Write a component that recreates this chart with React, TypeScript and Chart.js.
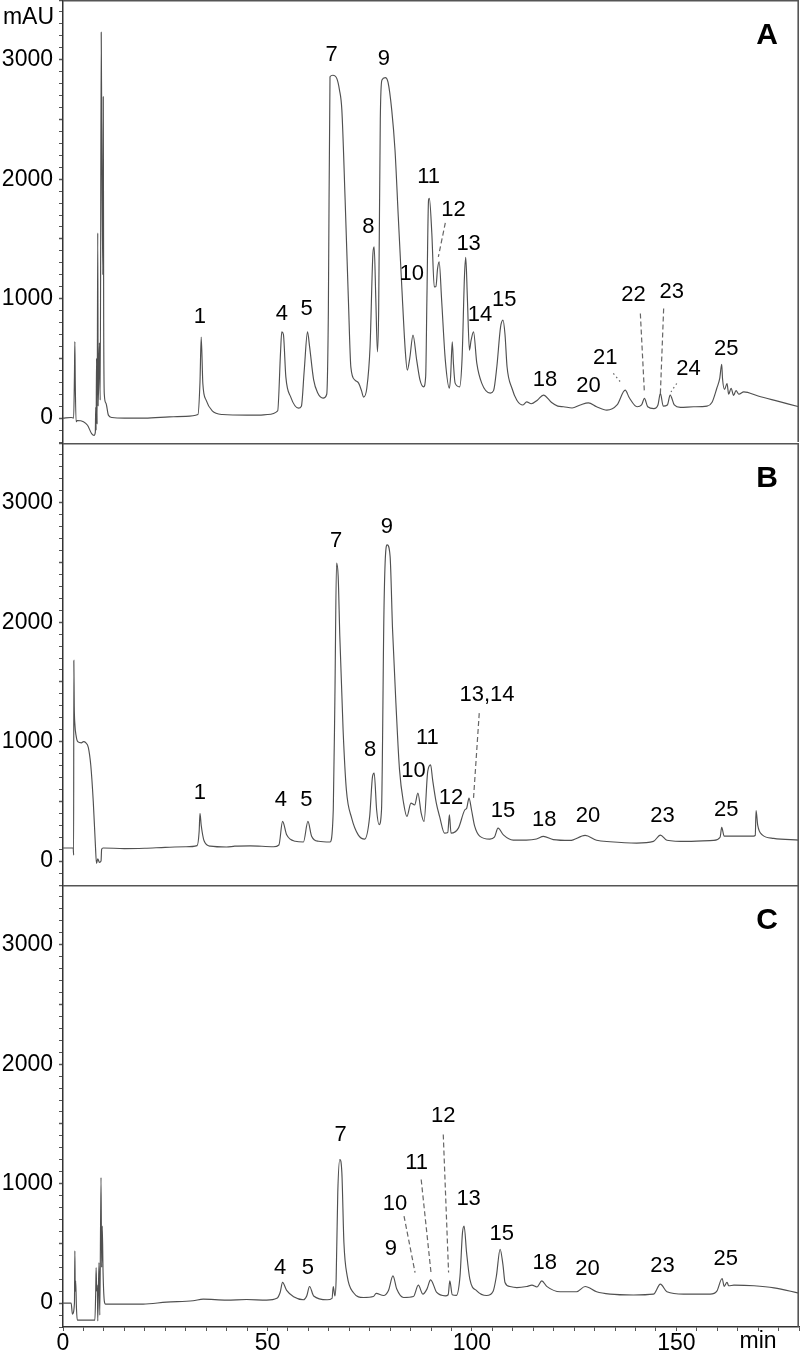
import React, { useEffect, useRef } from "react";
import { Chart, registerables } from "chart.js";

Chart.register(...registerables);

const FONT = '"Liberation Sans", Arial, Helvetica, sans-serif';

const timeRange = [0, 180];
const signalRange = [-200, 3500];
const xTickLabels = [0, 50, 100, 150];
const yTickLabels = [0, 1000, 2000, 3000];

// ---------- Panel A ----------
const timeA = [0, 2.0, 2.6, 2.8, 2.9, 3.0, 3.2, 3.5, 5.0, 6.0, 7.0, 7.6, 7.9, 8.0, 8.1, 8.2, 8.35, 8.5, 8.6, 8.9, 9.1, 9.35, 9.5, 9.75, 9.85, 9.95, 10.1, 10.5, 11.1, 12, 15, 20, 26, 30, 33.0, 33.5, 33.8, 34.2, 35.0, 36.5, 39, 45, 48, 50, 52.5, 53.2, 53.5, 53.9, 54.5, 55.7, 57.6, 58.3, 59.0, 59.8, 60.3, 61.3, 62.3, 63.6, 64.5, 64.9, 65.3, 66.0, 67.0, 67.6, 68.2, 69.0, 69.8, 70.4, 71.4, 72.3, 73.0, 73.5, 74.3, 75.1, 75.8, 76.1, 76.5, 76.9, 77.2, 77.6, 78.0, 78.8, 79.5, 80.4, 81.2, 82.0, 82.9, 83.7, 84.2, 84.8, 85.6, 86.5, 87.3, 88.2, 88.7, 89.0, 89.4, 89.6, 90.2, 90.8, 91.2, 91.6, 92.0, 92.6, 93.5, 94.5, 94.8, 95.2, 95.5, 95.9, 97.0, 97.6, 98.2, 98.5, 98.9, 99.4, 99.8, 100.4, 101.2, 102.4, 104.5, 105.3, 106.1, 107.0, 107.6, 108.1, 108.6, 109.8, 111.0, 112.5, 113.4, 114.5, 116.0, 117.5, 119.5, 121.0, 122.4, 124.5, 126.5, 128.5, 130.5, 133.0, 135.5, 137.5, 138.5, 140.4, 141.5, 142.2, 143.0, 144.5, 145.5, 146.1, 146.8, 147.8, 148.5, 149.5, 151, 154.2, 157.5, 158.7, 159.9, 160.6, 161.1, 161.3, 161.8, 162.4, 162.8, 163.4, 164.0, 164.6, 165.3, 166.5, 170, 175, 180];
const signalA = [0, 5, 0, 360, 640, 300, -30, -20, -30, -60, -130, -145, -120, 90, -100, 500, -50, 1550, 100, 630, 150, 3230, 2200, 1200, 2690, 820, 200, 125, 25, 5, 0, 0, 10, 15, 30, 300, 678, 290, 150, 60, 30, 25, 25, 30, 60, 550, 722, 700, 345, 176, 84, 100, 400, 722, 600, 320, 210, 167, 200, 900, 2857, 2870, 2840, 2750, 2578, 1825, 988, 427, 318, 293, 230, 176, 250, 600, 1380, 1434, 1000, 555, 900, 2500, 2830, 2850, 2810, 2578, 2243, 1685, 1071, 569, 402, 500, 695, 485, 320, 262, 350, 1000, 1825, 1840, 1548, 1099, 1100, 1250, 1308, 988, 485, 250, 350, 639, 450, 293, 262, 500, 1200, 1345, 1000, 569, 650, 722, 460, 293, 209, 230, 430, 760, 820, 700, 430, 250, 150, 110, 136, 120, 150, 193, 130, 100, 95, 85, 110, 128, 95, 67, 110, 234, 170, 95, 110, 165, 95, 80, 110, 207, 100, 110, 193, 110, 90, 95, 100, 130, 250, 330, 450, 330, 240, 290, 200, 250, 190, 230, 200, 220, 185, 140, 95];
const peakNamesA = ["1", "4", "5", "7", "8", "9", "10", "11", "12", "13", "14", "15", "18", "20", "21", "22", "23", "24", "25"];
const peakTimesA = [33.5, 53.5, 59.6, 65.7, 74.7, 78.5, 85.3, 89.4, 95.5, 99.2, 102.0, 107.9, 117.9, 128.5, 132.6, 139.5, 148.9, 153.0, 162.2];
const peakLabelLevelsA = [845, 876, 918, 3038, 1601, 3010, 1211, 2020, 1741, 1462, 862, 988, 318, 268, 500, 1030, 1057, 408, 575];
const leaderTimesA = [[93.5, 91.8], [134.6, 136.3], [141.2, 142.2], [146.9, 146.1], [150.1, 148.7]];
const leaderLevelsA = [[1635, 1350], [374, 304], [876, 207], [918, 207], [290, 220]];
const leaderDottedA = [false, true, false, false, true];

// ---------- Panel B ----------
const timeB = [0, 2.5, 2.6, 2.65, 2.75, 2.9, 3.2, 3.6, 4.5, 5.0, 5.6, 6.2, 6.8, 7.4, 7.9, 8.2, 8.5, 8.9, 9.3, 9.45, 9.8, 15, 20, 25, 30, 32.8, 33.3, 33.5, 33.8, 34.5, 36, 40, 42, 45.8, 51.5, 52.8, 53.7, 54.7, 56.8, 58.8, 59.9, 60.8, 62.5, 65.3, 66.1, 66.5, 66.9, 67.3, 67.7, 68.5, 69.3, 70.6, 72.2, 73.8, 75.0, 75.7, 76.1, 76.7, 77.3, 77.9, 78.5, 78.9, 79.3, 80.0, 80.6, 81.5, 82.3, 83.3, 84.1, 85.1, 86.0, 86.8, 87.6, 88.3, 89.2, 89.9, 90.4, 91.3, 92.1, 93.3, 94.1, 94.5, 94.9, 96.7, 98.3, 98.7, 99.3, 99.9, 100.7, 101.9, 104.4, 105.5, 106.4, 107.7, 110.1, 113.3, 115.8, 117.5, 119.9, 124, 127.7, 130.5, 133.8, 140.3, 144.4, 146.1, 147.7, 152.6, 159.1, 160.7, 161.1, 161.7, 168.9, 169.3, 169.5, 169.9, 171, 173.8, 180];
const signalB = [110, 110, 50, 1680, 1300, 1150, 1050, 1000, 990, 1000, 990, 950, 800, 500, 150, -20, 20, -10, 0, 100, 110, 105, 108, 115, 120, 130, 250, 400, 300, 170, 125, 118, 125, 128, 120, 135, 332, 220, 166, 160, 332, 209, 166, 160, 430, 1379, 2494, 2383, 1881, 1099, 597, 360, 220, 184, 374, 709, 737, 430, 304, 430, 2103, 2578, 2647, 2550, 1936, 1266, 764, 485, 374, 485, 470, 569, 402, 332, 751, 806, 680, 485, 374, 234, 240, 388, 234, 276, 430, 440, 527, 430, 290, 209, 184, 200, 276, 220, 176, 176, 185, 207, 180, 173, 215, 175, 162, 151, 165, 218, 175, 165, 173, 200, 282, 209, 209, 215, 424, 301, 220, 190, 176];
const peakNamesB = ["1", "4", "5", "7", "8", "9", "10", "11", "12", "13,14", "15", "18", "20", "23", "25"];
const peakTimesB = [33.5, 53.3, 59.5, 66.8, 75.1, 79.2, 85.7, 89.1, 94.9, 103.7, 107.6, 117.7, 128.4, 146.6, 162.2];
const peakLabelLevelsB = [567, 513, 513, 2676, 932, 2801, 751, 1029, 527, 1392, 416, 346, 374, 379, 429];
const leaderTimesB = [[101.8, 100.4]];
const leaderLevelsB = [[1239, 527]];
const leaderDottedB = [false];

// ---------- Panel C ----------
const timeC = [0, 2.0, 2.3, 2.8, 2.9, 3.0, 3.1, 3.3, 3.5, 7.8, 8.0, 8.1, 8.25, 8.4, 8.5, 8.8, 9.0, 9.3, 9.45, 9.6, 9.8, 10.1, 10.4, 19.6, 25.3, 31.8, 34.3, 40, 44.9, 49.8, 52.3, 53.1, 53.7, 54.7, 56.4, 58.8, 59.6, 60.3, 61.3, 64.6, 65.8, 66.1, 66.5, 66.8, 67.2, 67.7, 68.2, 68.7, 69.5, 71.0, 73.5, 75.9, 76.6, 78.4, 79.6, 80.7, 81.6, 83.3, 85.7, 86.9, 88.0, 89.0, 89.9, 91.4, 93.5, 94.2, 94.6, 95.2, 96.2, 97.1, 97.7, 98.1, 98.7, 99.5, 101.2, 103.6, 105.2, 106.0, 106.9, 107.6, 108.1, 109.3, 111.0, 113.4, 114.7, 115.9, 117.1, 118.3, 121.6, 125.6, 127.7, 130.5, 133.8, 139.5, 144.4, 146.1, 147.7, 151.8, 158.3, 159.9, 161.2, 161.7, 162.4, 162.8, 164.1, 169, 173.9, 180];
const signalC = [0, 0, -92, 0, 437, 100, 186, -50, -142, -142, 100, 298, 100, 150, -150, 340, -100, 1050, 300, 645, 256, 19, -8, -8, 8, 20, 33, 25, 30, 25, 40, 89, 173, 106, 53, 28, 60, 139, 60, 28, 40, 139, 60, 200, 924, 1202, 1091, 507, 228, 89, 47, 55, 81, 64, 106, 228, 120, 47, 55, 150, 75, 117, 195, 89, 61, 70, 186, 70, 65, 228, 590, 645, 423, 200, 103, 64, 100, 228, 451, 320, 173, 139, 130, 139, 150, 135, 186, 140, 95, 95, 139, 95, 75, 68, 75, 159, 95, 75, 75, 100, 206, 140, 175, 145, 150, 145, 128, 83];
const peakNamesC = ["4", "5", "7", "9", "10", "11", "12", "13", "15", "18", "20", "23", "25"];
const peakTimesC = [53.1, 59.9, 67.9, 80.2, 81.2, 86.5, 93.0, 99.2, 107.3, 117.8, 128.3, 146.6, 162.1];
const peakLabelLevelsC = [298, 298, 1411, 451, 827, 1175, 1564, 868, 576, 340, 290, 312, 367];
const leaderTimesC = [[83.4, 86.1], [87.6, 90.0], [93.0, 94.3]];
const leaderLevelsC = [[729, 256], [1035, 256], [1411, 256]];
const leaderDottedC = [false, false, false];

type PanelSpec = {
  key: string;
  letter: string;
  times: number[];
  values: number[];
  names: string[];
  nameTimes: number[];
  nameLevels: number[];
  leaderTimes: number[][];
  leaderLevels: number[][];
  leaderDotted: boolean[];
  top: number;
  height: number;
  padBottom: number;
  bottomAxis: boolean;
  unitLabel: boolean;
};

const panels: PanelSpec[] = [
  { key: "A", letter: "A", times: timeA, values: signalA, names: peakNamesA, nameTimes: peakTimesA, nameLevels: peakLabelLevelsA, leaderTimes: leaderTimesA, leaderLevels: leaderLevelsA, leaderDotted: leaderDottedA, top: 0, height: 443, padBottom: 1, bottomAxis: false, unitLabel: true },
  { key: "B", letter: "B", times: timeB, values: signalB, names: peakNamesB, nameTimes: peakTimesB, nameLevels: peakLabelLevelsB, leaderTimes: leaderTimesB, leaderLevels: leaderLevelsB, leaderDotted: leaderDottedB, top: 443, height: 442, padBottom: 0, bottomAxis: false, unitLabel: false },
  { key: "C", letter: "C", times: timeC, values: signalC, names: peakNamesC, nameTimes: peakTimesC, nameLevels: peakLabelLevelsC, leaderTimes: leaderTimesC, leaderLevels: leaderLevelsC, leaderDotted: leaderDottedC, top: 885, height: 474, padBottom: 0, bottomAxis: true, unitLabel: false },
];

function Panel({ spec }: { spec: PanelSpec }) {
  const ref = useRef<HTMLCanvasElement>(null);

  useEffect(() => {
    const canvas = ref.current;
    if (!canvas) return;

    const annotate = {
      id: "annotate" + spec.key,
      afterDraw(chart: any) {
        const { ctx, chartArea: a, scales } = chart;
        const xs = scales.x;
        const ys = scales.y;
        ctx.save();
        // frame: top and right borders
        ctx.strokeStyle = "#555";
        ctx.lineWidth = 1.6;
        ctx.beginPath();
        ctx.moveTo(a.left, a.top + 0.8);
        ctx.lineTo(a.right - 0.8, a.top + 0.8);
        ctx.lineTo(a.right - 0.8, a.bottom);
        ctx.stroke();

        // leader lines
        ctx.strokeStyle = "#666";
        ctx.lineWidth = 1.2;
        spec.leaderTimes.forEach((lt, i) => {
          const lv = spec.leaderLevels[i];
          ctx.setLineDash(spec.leaderDotted[i] ? [1.5, 3] : [5, 3]);
          ctx.beginPath();
          ctx.moveTo(xs.getPixelForValue(lt[0]), ys.getPixelForValue(lv[0]));
          ctx.lineTo(xs.getPixelForValue(lt[1]), ys.getPixelForValue(lv[1]));
          ctx.stroke();
        });
        ctx.setLineDash([]);

        // peak names
        ctx.fillStyle = "#000";
        ctx.font = `22px ${FONT}`;
        ctx.textAlign = "center";
        ctx.textBaseline = "middle";
        spec.names.forEach((n, i) => {
          ctx.fillText(n, xs.getPixelForValue(spec.nameTimes[i]), ys.getPixelForValue(spec.nameLevels[i]));
        });

        // panel letter
        ctx.font = `bold 30px ${FONT}`;
        ctx.fillText(spec.letter, xs.getPixelForValue(172.2), ys.getPixelForValue(3200));

        // unit label
        if (spec.unitLabel) {
          ctx.font = `23px ${FONT}`;
          ctx.textAlign = "right";
          ctx.fillText("mAU", ys.right - 9, ys.getPixelForValue(3350));
        }
        if (spec.bottomAxis) {
          ctx.font = `23px ${FONT}`;
          ctx.textAlign = "center";
          ctx.fillText("min", xs.getPixelForValue(170), a.bottom + 15);
        }
        ctx.restore();
      },
    };

    const chart = new Chart(canvas, {
      type: "line",
      data: {
        datasets: [
          {
            data: spec.times.map((t, i) => ({ x: t, y: spec.values[i] })),
            borderColor: "#505050",
            borderWidth: 1.15,
            pointRadius: 0,
            cubicInterpolationMode: "monotone",
            fill: false,
          },
        ],
      },
      options: {
        animation: false,
        responsive: false,
        maintainAspectRatio: false,
        devicePixelRatio: 1,
        layout: { padding: { left: 0, right: 1, top: 0, bottom: spec.padBottom } },
        plugins: { legend: { display: false }, tooltip: { enabled: false } },
        scales: {
          x: {
            type: "linear",
            min: timeRange[0],
            max: timeRange[1],
            display: spec.bottomAxis,
            position: "bottom",
            afterFit: (s: any) => {
              if (spec.bottomAxis) {
                s.height = 32;
              }
              s.paddingLeft = 0;
              s.paddingRight = 0;
            },
            border: { display: true, color: "#333", width: 1.5 },
            grid: { drawOnChartArea: false, drawTicks: true, tickLength: 4, tickColor: "#555" },
            ticks: {
              stepSize: 5,
              autoSkip: false,
              maxRotation: 0,
              minRotation: 0,
              padding: 1,
              color: "#000",
              font: { size: 23, family: FONT, lineHeight: 1 },
              callback: (v: any) => (xTickLabels.includes(Number(v)) ? String(v) : ""),
            },
          },
          y: {
            type: "linear",
            min: signalRange[0],
            max: signalRange[1],
            position: "left",
            afterFit: (s: any) => {
              s.width = 63;
              s.paddingTop = 0;
              s.paddingBottom = 0;
            },
            border: { display: true, color: "#333", width: 1.5 },
            grid: {
              drawOnChartArea: false,
              drawTicks: true,
              tickLength: 4,
              tickColor: "#555",
              tickWidth: (c: any) => (c.tick && c.tick.value % 500 === 0 ? 1.5 : 1),
            },
            ticks: {
              stepSize: 100,
              autoSkip: false,
              padding: 6,
              color: "#000",
              font: { size: 23, family: FONT, lineHeight: 1 },
              callback: (v: any) => (yTickLabels.includes(Number(v)) ? String(v) : ""),
            },
          },
        },
      },
      plugins: [annotate],
    } as any);

    return () => chart.destroy();
  }, [spec]);

  return (
    <canvas
      ref={ref}
      width={800}
      height={spec.height}
      style={{ position: "absolute", left: 0, top: spec.top, width: 800, height: spec.height }}
    />
  );
}

export default function App() {
  return (
    <div style={{ position: "absolute", left: 0, top: 0, width: 800, height: 1359, background: "#fff" }}>
      {panels.map((p) => (
        <Panel key={p.key} spec={p} />
      ))}
    </div>
  );
}
